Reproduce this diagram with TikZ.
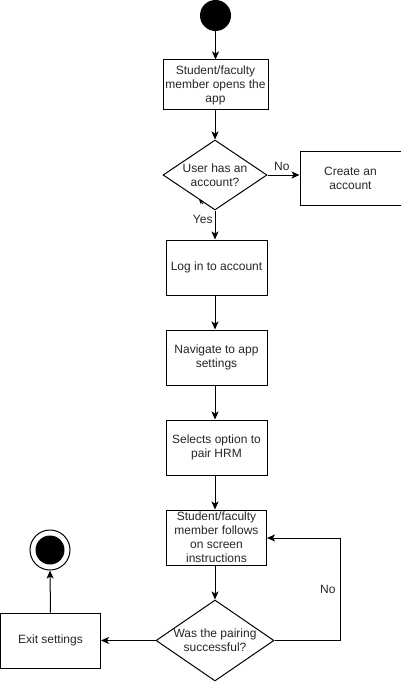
\documentclass[tikz,border=0pt]{standalone}
\usepackage{fontspec}
\setmainfont{Liberation Sans}
\usetikzlibrary{arrows.meta,shapes.geometric}
\begin{document}
\begin{tikzpicture}[x=1pt,y=-1pt,
  every node/.style={font=\fontsize{12}{14}\selectfont, text=black!85},
  proc/.style={draw, line width=1pt, minimum width=#1, align=center, inner sep=1pt},
  proc/.default=101pt,
  decide/.style={draw, line width=1pt, diamond, aspect=1.5, inner sep=0pt, align=center},
  flow/.style={line width=1pt, -{Stealth[length=8pt,width=7pt,inset=2pt]}},
  lbl/.style={inner sep=0pt}]
\useasboundingbox (0,0) rectangle (401,682);

% start and end markers
\node[circle, fill=black, minimum size=31pt, inner sep=0pt] (start) at (215.5,15.5) {};
\node[circle, draw, line width=1pt, minimum size=40pt, inner sep=0pt] (stop) at (50,550) {};
\node[circle, fill=black, minimum size=29pt, inner sep=0pt] (stopdot) at (50,550) {};

% activities
\node[proc=105pt, minimum height=50pt] (open) at (215.5,85) {Student/faculty\\member opens the\\app};
\node[decide, minimum width=104pt, minimum height=70pt] (has) at (215,175) {User has an\\account?};
\node[proc=101pt, minimum height=54pt] (create) at (350.5,178) {Create an\\account};
\node[proc=101pt, minimum height=55pt] (login) at (216.5,267.5) {Log in to account};
\node[proc=101pt, minimum height=55pt] (nav) at (216.5,357.5) {Navigate to app\\settings};
\node[proc=101pt, minimum height=55pt] (sel) at (216.5,447.5) {Selects option to\\pair HRM};
\node[proc=100pt, minimum height=55pt] (follow) at (216.5,537.5) {Student/faculty\\member follows\\on screen\\instructions};
\node[decide, minimum width=118pt, minimum height=81pt] (ok) at (215,640.5) {Was the pairing\\successful?};
\node[proc=100pt, minimum height=55pt] (exit) at (50.5,640.5) {Exit settings};

% connectors (main column runs along x = 215)
\draw[flow] (start) -- (open.north -| start);
\draw[flow] (open.south -| has) -- (has);
\draw[flow] (has.east) -- node[lbl, above=4pt, pos=0.45] {No} (create.west |- has.east);
\draw[flow] (has.south) -- node[lbl, pos=0.3, left=2pt] {Yes} (has.south |- login.north);
\draw[flow] (login.south -| has) -- (nav.north -| has);
\draw[flow] (nav.south -| has) -- (sel.north -| has);
\draw[flow] (sel.south -| has) -- (follow.north -| has);
\draw[flow] (follow.south -| ok.north) -- (ok);
\coordinate (loopA) at (340,640.5);
\coordinate (loopB) at (340,538);
\draw[flow] (ok.east) -- (loopA) -- node[lbl, pos=0.5, left=4pt] {No} (loopB) -- (follow.east |- loopB);
\draw[flow] (ok.west) -- (exit.east);
\draw[flow] (exit.north) -- (stop.south);

% small stray tip on the lower-left edge of the first decision
\coordinate (tipA) at (203,204);
\coordinate (tipB) at (199,199);
\draw[line width=0.8pt, -{Stealth[length=5pt,width=4pt]}] (tipA) -- (tipB);
\end{tikzpicture}
\end{document}
